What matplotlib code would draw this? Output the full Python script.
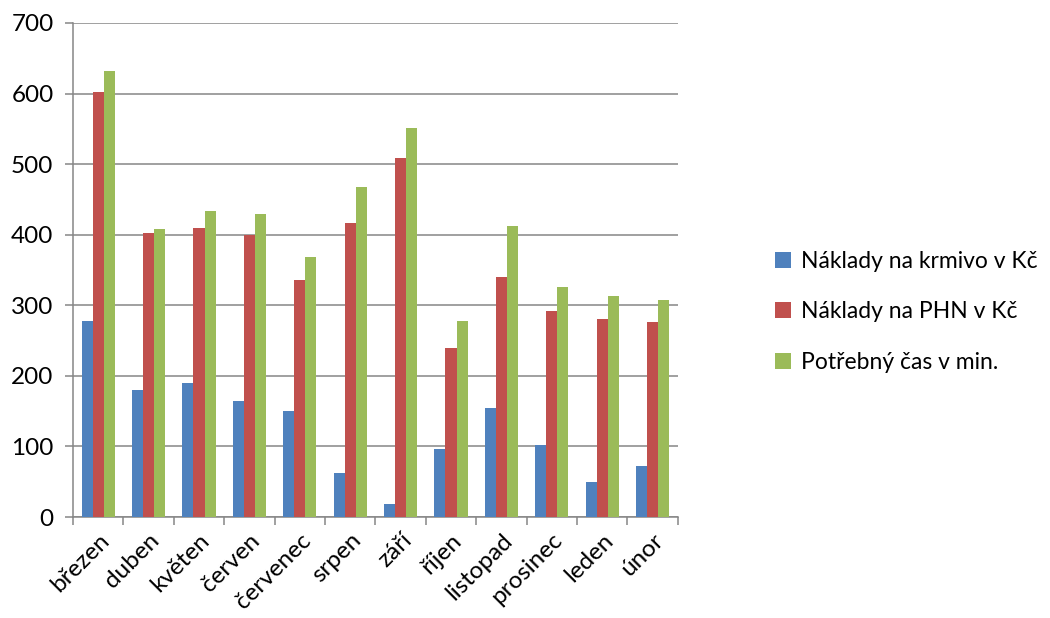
import numpy as np
import matplotlib
matplotlib.use("Agg")
import matplotlib.pyplot as plt

# data
months = ['březen', 'duben', 'květen', 'červen', 'červenec', 'srpen',
          'září', 'říjen', 'listopad', 'prosinec', 'leden', 'únor']
krmivo = [278, 180, 190, 165, 150, 63, 18, 96, 154, 102, 50, 72]
phn = [602, 402, 410, 399, 336, 416, 508, 240, 340, 292, 280, 276]
cas = [632, 408, 433, 429, 368, 467, 551, 278, 412, 326, 313, 307]
series_names = ['Náklady na krmivo v Kč', 'Náklady na PHN v Kč', 'Potřebný čas v min.']

colors = ['#4f81bd', '#c0504d', '#9bbb59']
plt.rcParams['font.family'] = ['Lato', 'DejaVu Sans']

fig = plt.figure(figsize=(10.5, 6.18), dpi=100)
ax = fig.add_axes([0.0695, 0.1634, 0.576, 0.7994])

x = np.arange(len(months))
w = 0.22
for i, vals in enumerate([krmivo, phn, cas]):
    ax.bar(x + (i - 1) * w, vals, width=w, color=colors[i], label=series_names[i],
           zorder=3, edgecolor='none')

ax.set_xlim(-0.5, len(months) - 0.5)
ax.set_ylim(0, 700)
ax.set_yticks(range(0, 701, 100))
ax.yaxis.grid(True, color='#868686', linewidth=1.1, zorder=0)
ax.set_axisbelow(True)

# category ticks sit between groups
ax.set_xticks(np.arange(-0.5, len(months), 1))
ax.set_xticklabels([])
ax.set_xticks(x, minor=True)
ax.set_xticklabels(months, minor=True, rotation=45, ha='right', va='top',
                   rotation_mode='anchor', fontsize=17.5)
ax.tick_params(axis='x', which='minor', length=0, pad=9)
ax.tick_params(axis='x', which='major', length=6, color='#868686', width=1.1)
ax.tick_params(axis='y', length=6, color='#868686', width=1.1, labelsize=17.5, pad=8)

for s in ['top', 'right']:
    ax.spines[s].set_visible(False)
for s in ['left', 'bottom']:
    ax.spines[s].set_color('#868686')
    ax.spines[s].set_linewidth(1.1)

ax.legend(loc='center left', bbox_to_anchor=(1.145, 0.415), frameon=False,
          fontsize=16.5, handlelength=0.7, handleheight=0.7,
          handletextpad=0.45, labelspacing=1.3, borderaxespad=0)

fig.savefig('out.png', dpi=100)
